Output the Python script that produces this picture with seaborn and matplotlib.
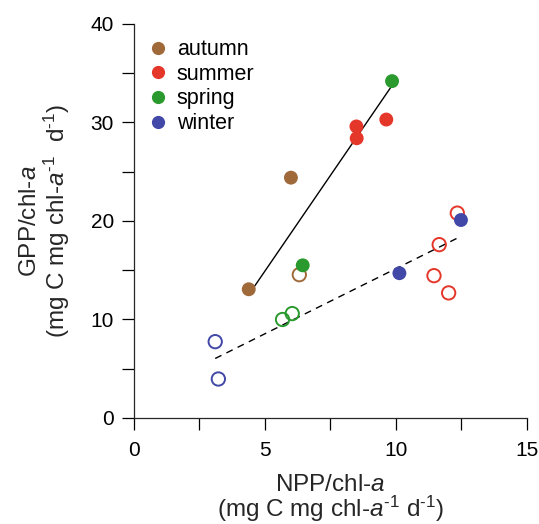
import numpy as np
import pandas as pd
import seaborn as sns
import matplotlib.pyplot as plt
from matplotlib.lines import Line2D

# seasons and colours
seasons = ['autumn', 'summer', 'spring', 'winter']
season_colors = ['#a0693a', '#e5362a', '#2a9a2e', '#4148a8']

# filled points
filled_season = ['autumn', 'autumn', 'summer', 'summer', 'summer', 'spring', 'spring', 'winter', 'winter']
filled_npp = [4.38, 5.99, 8.49, 8.50, 9.63, 9.85, 6.44, 10.13, 12.48]
filled_gpp = [13.07, 24.4, 29.6, 28.4, 30.3, 34.2, 15.5, 14.7, 20.1]

# open points
open_season = ['autumn', 'summer', 'summer', 'summer', 'summer', 'spring', 'spring', 'winter', 'winter']
open_npp = [6.31, 12.34, 11.65, 11.45, 12.01, 5.67, 6.04, 3.10, 3.22]
open_gpp = [14.55, 20.8, 17.6, 14.45, 12.7, 10.0, 10.6, 7.75, 3.96]

sns.set_theme(style='ticks')
plt.rcParams['font.family'] = ['Liberation Sans', 'DejaVu Sans']
plt.rcParams['mathtext.fontset'] = 'custom'
plt.rcParams['mathtext.rm'] = 'Liberation Sans'
plt.rcParams['mathtext.it'] = 'Liberation Sans:italic'
plt.rcParams['axes.linewidth'] = 0.9
plt.rcParams['text.color'] = 'black'
plt.rcParams['xtick.color'] = 'black'
plt.rcParams['ytick.color'] = 'black'

pal = dict(zip(seasons, season_colors))
df_f = pd.DataFrame({'season': filled_season, 'npp': filled_npp, 'gpp': filled_gpp})
df_o = pd.DataFrame({'season': open_season, 'npp': open_npp, 'gpp': open_gpp})


def rma_line(x, y):
    # reduced major axis (type II) regression over the data range
    x = np.asarray(x)
    y = np.asarray(y)
    slope = np.std(y) / np.std(x)
    xs = np.array([x.min(), x.max()])
    return xs, y.mean() + slope * (xs - x.mean())


fig = plt.figure(figsize=(5.39, 5.24), dpi=100)
ax = fig.add_axes([0.2486, 0.2023, 0.7291, 0.7519])

# regression lines
sub = df_f[df_f.season != 'winter']
lx, ly = rma_line(sub.npp, sub.gpp)
ax.plot(lx, ly, color='black', lw=1.0, zorder=1)
lx, ly = rma_line(df_o.npp, df_o.gpp)
ax.plot(lx, ly, color='black', lw=1.0, ls=(0, (5, 4)), zorder=1)

sns.scatterplot(data=df_f, x='npp', y='gpp', hue='season', palette=pal,
                s=100, linewidth=0, legend=False, ax=ax, zorder=3)
sns.scatterplot(data=df_o, x='npp', y='gpp', hue='season', palette=pal,
                s=92, linewidth=1.4, legend=False, ax=ax, zorder=2)
coll = ax.collections[-1]
coll.set_edgecolors(coll.get_facecolors())
coll.set_facecolors('none')

ax.set_xlim(0, 15)
ax.set_ylim(0, 40)
ax.set_xticks([0, 5, 10, 15])
ax.set_xticks([2.5, 7.5, 12.5], minor=True)
ax.set_yticks([0, 10, 20, 30, 40])
ax.set_yticks([5, 15, 25, 35], minor=True)
ax.tick_params(which='both', direction='out', length=8.5, width=0.9, labelsize=15)
ax.tick_params(axis='x', which='both', pad=8)
ax.tick_params(axis='y', which='both', pad=6)
sns.despine(ax=ax)

unit = '(mg C mg chl-$\\mathit{a}^{\\text{-}1}$ d$^{\\text{-}1}$)'
ax.set_xlabel('NPP/chl-$\\mathit{a}$\n' + unit, fontsize=17.5, labelpad=10, linespacing=0.9)
ax.set_ylabel('GPP/chl-$\\mathit{a}$\n' + unit.replace('$ d', '$  d'),
              fontsize=17.5, labelpad=13, linespacing=1.05)

handles = [Line2D([], [], marker='o', ls='', color=c, markersize=9.5, markeredgewidth=0)
           for c in season_colors]
ax.legend(handles, seasons, loc='upper left', bbox_to_anchor=(-0.02, 1.0), frameon=False,
          fontsize=15.5, handletextpad=0.05, labelspacing=0.17, borderaxespad=0.3,
          handlelength=1.6)

fig.savefig('out.png', dpi=100)
